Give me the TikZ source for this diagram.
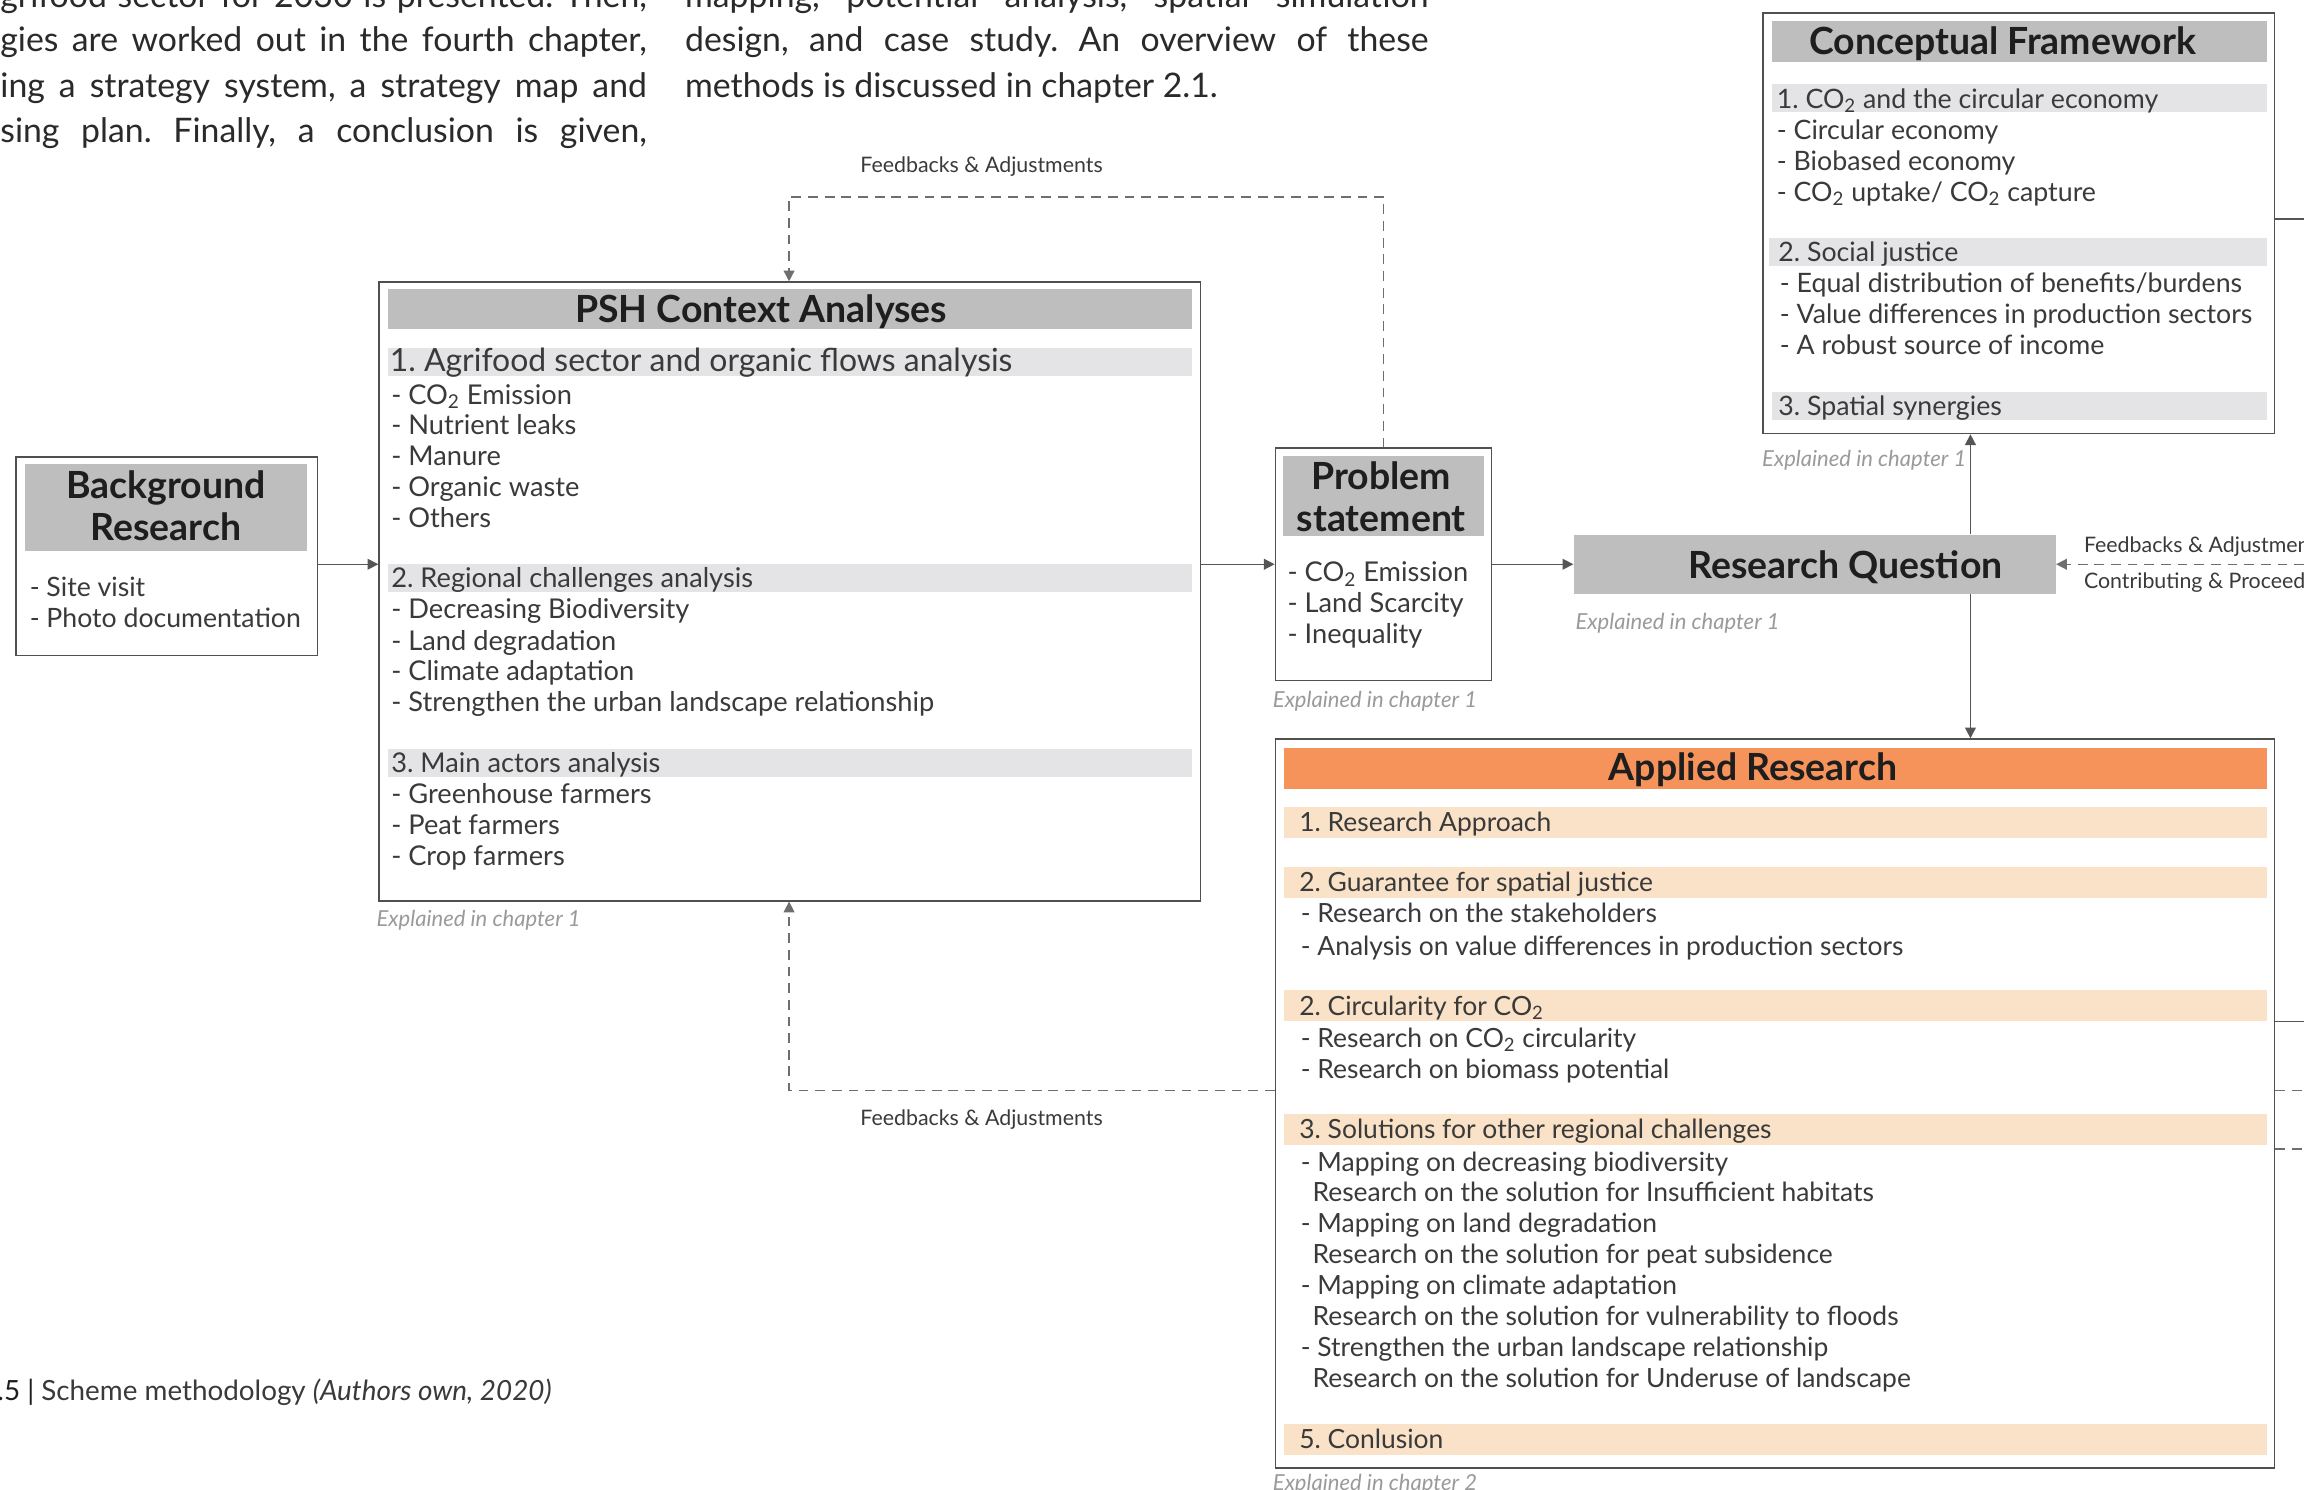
\documentclass[tikz,border=0pt]{standalone}
\usepackage{fontspec}
\setmainfont{Lato}
\usetikzlibrary{arrows.meta,fit}

\definecolor{hdrgray}{HTML}{BEBEBE}
\definecolor{bargray}{HTML}{E4E4E6}
\definecolor{hdrorange}{HTML}{F6935B}
\definecolor{barpeach}{HTML}{F9E2C8}
\definecolor{framegray}{HTML}{505050}
\definecolor{linegray}{HTML}{555555}
\definecolor{dashgray}{HTML}{6E6E6E}
\definecolor{notegray}{HTML}{9A9A9A}
\definecolor{bodytext}{HTML}{3A3A3A}
\definecolor{titletext}{HTML}{1E1E1E}
\definecolor{paratext}{HTML}{2A2A2A}

\begin{document}
\frenchspacing
\begin{tikzpicture}[x=0.75pt,y=-0.75pt,
  boxframe/.style={draw=framegray,line width=0.8pt,inner sep=0pt},
  greybar/.style={fill=hdrgray,inner sep=0pt},
  lightbar/.style={fill=bargray,inner sep=0pt},
  orangebar/.style={fill=hdrorange,inner sep=0pt},
  peachbar/.style={fill=barpeach,inner sep=0pt},
  boxtitle/.style={font=\bfseries\fontsize{19.1}{21.4}\selectfont,text=titletext,align=center,inner sep=0pt},
  txtline/.style={anchor=west,inner sep=0pt,text height=1.05em,text depth=0pt,text=bodytext,font=\fontsize{13.9}{15.75}\selectfont},
  psline/.style={txtline,font=\fontsize{13.9}{16}\selectfont},
  brline/.style={txtline,font=\fontsize{13.6}{16}\selectfont},
  cfline/.style={txtline,font=\fontsize{13.65}{15.75}\selectfont},
  arline/.style={txtline,font=\fontsize{13.5}{15}\selectfont},
  leadline/.style={txtline,font=\fontsize{16.3}{18}\selectfont},
  chapnote/.style={anchor=west,inner sep=0pt,text height=0.98em,text depth=0pt,text=notegray,font=\itshape\fontsize{11.25}{13}\selectfont},
  fblabel/.style={inner sep=0pt,text height=0.86em,text depth=0pt,text=bodytext,font=\fontsize{10.9}{12}\selectfont},
  para/.style={inner sep=0pt,anchor=west,text=paratext,text height=1.07em,text depth=0pt,font=\fontsize{17.25}{23}\selectfont},
  arrowend/.style={-{Triangle[length=5.5pt,width=5.5pt]}},
  joinline/.style={draw=linegray,line width=0.75pt},
  fback/.style={draw=dashgray,line width=0.75pt,dash pattern=on 5pt off 3.5pt},
]
\useasboundingbox (0,0) rectangle (1568,1014);
\clip (0,0) rectangle (1568,1014);
\fill[white] (0,0) rectangle (1568,1014);

% ---- running text above the scheme ----
\node[para] (pa1) at (0,-2)  {\makebox[330pt][s]{grifood sector for 2030 is presented. Then,}};
\node[para] (pa2) at (0,28)  {\makebox[330pt][s]{gies are worked out in the fourth chapter,}};
\node[para] (pa3) at (0,59)  {\makebox[330pt][s]{ing a strategy system, a strategy map and}};
\node[para] (pa4) at (0,90)  {\makebox[330pt][s]{sing plan. Finally, a conclusion is given,}};
\node[para] (pb1) at (466,-2) {\makebox[379.5pt][s]{mapping, potential analysis, spatial simulation}};
\node[para] (pb2) at (466,28) {\makebox[379.5pt][s]{design, and case study. An overview of these}};
\node[para] (pb3) at (466,59) {methods is discussed in chapter 2.1.};

% ---- Background Research ----
\node[boxframe,fit={(11,311) (216,446)}] (br) {};
\node[greybar,fit={(17,316) (209,375)}] (brhead) {};
\node[boxtitle] (brtitle) at (113,344) {Background\\Research};
\node[brline] (br1) at (20,399) {- Site visit};
\node[brline] (br2) at (20,420) {- Photo documentation};

% ---- PSH Context Analyses ----
\node[boxframe,fit={(258,192) (817,613)}] (psh) {};
\node[greybar,fit={(264,197) (811,224)}] (pshhead) {};
\node[boxtitle] (pshtitle) at (518,212) {PSH Context Analyses};
\node[lightbar,fit={(264,237) (811,256)}] (pshbarA) {};
\node[lightbar,fit={(264,384) (811,403)}] (pshbarB) {};
\node[lightbar,fit={(264,510) (811,529)}] (pshbarC) {};
\node[leadline] (pshA) at (265,246) {1. Agrifood sector and organic flows analysis};
\node[txtline] (pshB) at (266,393) {2. Regional challenges analysis};
\node[txtline] (pshC) at (266,519) {3. Main actors analysis};
\foreach \y/\t [count=\i] in {268/{- CO\textsubscript{2} Emission},289/{- Nutrient leaks},310/{- Manure},331/{- Organic waste},352/{- Others}}
  \node[txtline] (pshA\i) at (266,\y) {\t};
\foreach \y/\t [count=\i] in {414/{- Decreasing Biodiversity},436/{- Land degradation},456/{- Climate adaptation},477/{- Strengthen the urban landscape relationship}}
  \node[txtline] (pshB\i) at (266,\y) {\t};
\foreach \y/\t [count=\i] in {540/{- Greenhouse farmers},561/{- Peat farmers},582/{- Crop farmers}}
  \node[txtline] (pshC\i) at (266,\y) {\t};
\node[chapnote] (pshnote) at (256,624) {Explained in chapter 1};

% ---- Problem statement ----
\node[boxframe,fit={(868,305) (1015,463)}] (ps) {};
\node[greybar,fit={(873,310) (1010,365)}] (pshead) {};
\node[boxtitle] (pstitle) at (940,338) {Problem\\statement};
\node[psline] (ps1) at (876,389) {- CO\textsubscript{2} Emission};
\node[psline] (ps2) at (876,410) {- Land Scarcity};
\node[psline] (ps3) at (876,431) {- Inequality};
\node[chapnote] (psnote) at (866,475) {Explained in chapter 1};

% ---- Research Question ----
\node[greybar,fit={(1071,364) (1399,404)}] (rq) {};
\node[boxtitle] (rqtitle) at (1256,386) {Research Question};
\node[chapnote] (rqnote) at (1072,422) {Explained in chapter 1};

% ---- Conceptual Framework ----
\node[boxframe,fit={(1200,9) (1548,295)}] (cf) {};
\node[greybar,fit={(1206,14) (1543,42)}] (cfhead) {};
\node[boxtitle] (cftitle) at (1363,30) {Conceptual Framework};
\node[lightbar,fit={(1206,57) (1543,76)}] (cfbarA) {};
\node[lightbar,fit={(1204,162) (1543,181)}] (cfbarB) {};
\node[lightbar,fit={(1206,267) (1543,286)}] (cfbarC) {};
\node[cfline] (cfA) at (1209,67) {1. CO\textsubscript{2} and the circular economy};
\node[cfline] (cfB) at (1210,171) {2. Social justice};
\node[cfline] (cfC) at (1210,276) {3. Spatial synergies};
\foreach \y/\t [count=\i] in {88/{- Circular economy},109/{- Biobased economy},130/{- CO\textsubscript{2} uptake/ CO\textsubscript{2} capture}}
  \node[cfline] (cfA\i) at (1209,\y) {\t};
\foreach \y/\t [count=\i] in {192/{- Equal distribution of benefits/burdens},213/{- Value differences in production sectors},234/{- A robust source of income}}
  \node[cfline] (cfB\i) at (1211,\y) {\t};
\node[chapnote] (cfnote) at (1199,311) {Explained in chapter 1};

% ---- Applied Research ----
\node[boxframe,fit={(868,503) (1548,999)}] (ar) {};
\node[orangebar,fit={(874,509) (1543,537)}] (arhead) {};
\node[boxtitle] (artitle) at (1193,524) {Applied Research};
\node[peachbar,fit={(874,549) (1543,570)}] (arbarA) {};
\node[peachbar,fit={(874,590) (1543,611)}] (arbarB) {};
\node[peachbar,fit={(874,674) (1543,695)}] (arbarC) {};
\node[peachbar,fit={(874,758) (1543,779)}] (arbarD) {};
\node[peachbar,fit={(874,969) (1543,990)}] (arbarE) {};
\node[arline] (arA) at (884,559) {1. Research Approach};
\node[arline] (arB) at (884,600) {2. Guarantee for spatial justice};
\node[arline] (arC) at (884,684) {2. Circularity for CO\textsubscript{2}};
\node[arline] (arD) at (884,768) {3. Solutions for other regional challenges};
\node[arline] (arE) at (884,979) {5. Conlusion};
\foreach \y/\t [count=\i] in {621/{- Research on the stakeholders},643/{- Analysis on value differences in production sectors}}
  \node[arline] (arB\i) at (885,\y) {\t};
\foreach \y/\t [count=\i] in {706/{- Research on CO\textsubscript{2} circularity},727/{- Research on biomass potential}}
  \node[arline] (arC\i) at (885,\y) {\t};
\foreach \y/\x/\t [count=\i] in {790/885/{- Mapping on decreasing biodiversity},811/893/{Research on the solution for Insufficient habitats},832/885/{- Mapping on land degradation},853/893/{Research on the solution for peat subsidence},874/885/{- Mapping on climate adaptation},895/893/{Research on the solution for vulnerability to floods},916/885/{- Strengthen the urban landscape relationship},937/893/{Research on the solution for Underuse of landscape}}
  \node[arline] (arD\i) at (\x,\y) {\t};
\node[chapnote] (arnote) at (866,1008) {Explained in chapter 2};

% ---- reference points for the connectors ----
\coordinate (row) at (0,384);
\coordinate (spine) at (1341,0);
\coordinate (fbtop) at (537,134);
\coordinate (fbbot) at (537,742);
\coordinate (rqfeed) at (1568,384);
\coordinate (cfout) at (1568,149);
\coordinate (arout) at (1568,695);
\coordinate (arfbA) at (1568,742);
\coordinate (arfbB) at (1568,782);

% ---- main flow ----
\draw[joinline,arrowend] (br.east |- row) -- (psh.west |- row);
\draw[joinline,arrowend] (psh.east |- row) -- (ps.west |- row);
\draw[joinline,arrowend] (ps.east |- row) -- (rq.west);
\draw[joinline,arrowend] (rq.north -| spine) -- (cf.south -| spine);
\draw[joinline,arrowend] (rq.south -| spine) -- (ar.north -| spine);

% ---- feedback loops ----
\draw[fback,arrowend] (ps.north) |- (fbtop) -- (psh.north -| fbtop);
\draw[fback,arrowend] (ar.west |- fbbot) -- (fbbot) -- (psh.south -| fbbot);
\draw[fback,arrowend] (rqfeed) -- (rq.east);
\node[fblabel] (fbtoplabel) at (668,112) {Feedbacks \& Adjustments};
\node[fblabel] (fbbotlabel) at (668,760) {Feedbacks \& Adjustments};
\node[fblabel,anchor=west] (rqfbA) at (1418,370) {Feedbacks \& Adjustments};
\node[fblabel,anchor=west] (rqfbB) at (1418,395) {Contributing \& Proceeding};

% ---- links leaving to the right ----
\draw[joinline] (cf.east |- cfout) -- (cfout);
\draw[joinline] (ar.east |- arout) -- (arout);
\draw[fback] (ar.east |- arfbA) -- (arfbA);
\draw[fback] (ar.east |- arfbB) -- (arfbB);

% ---- figure caption ----
\node[anchor=west,inner sep=0pt,text height=1.02em,text depth=0pt,text=bodytext,font=\fontsize{14.2}{16}\selectfont] (caption) at (-2,946)
  {{\color{titletext}.5 |} Scheme methodology \textit{(Authors own, 2020)}};
\end{tikzpicture}
\end{document}
